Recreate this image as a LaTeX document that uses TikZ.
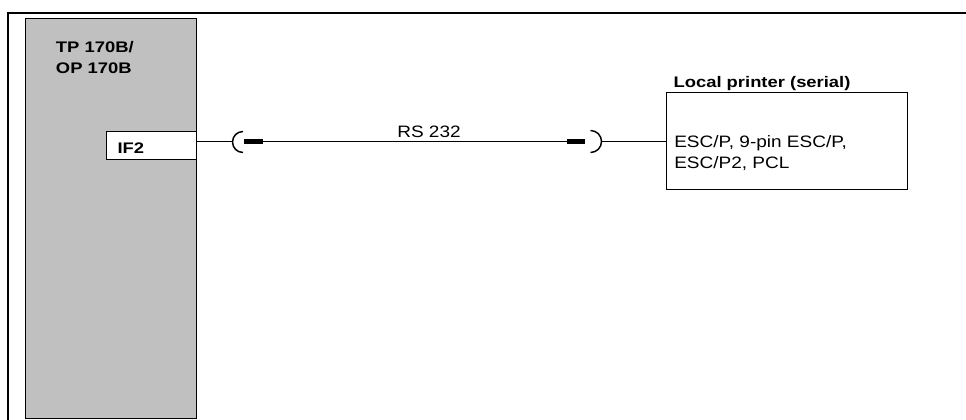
\documentclass[tikz,border=0pt]{standalone}
\usepackage{fontspec}
\setmainfont{Liberation Sans}[FakeStretch=1.15]
\newfontfamily\headfont{Liberation Sans}[FakeStretch=1.2]
\definecolor{panelgray}{RGB}{192,192,192}
\begin{document}
\begin{tikzpicture}[x=0.75pt,y=-0.75pt,
  txt/.style={inner sep=0pt,anchor=base west,align=left,
    font=\fontsize{12.4}{16.1}\selectfont},
  head/.style={inner sep=0pt,anchor=base west,align=left,
    font=\headfont\bfseries\fontsize{11.5}{16.1}\selectfont},
  wire/.style={line width=1.1pt},
  plug/.style={line width=3.2pt}]
  \useasboundingbox (0,0) rectangle (966,420);
  % outer frame
  \draw[line width=1.7pt] (8,425) -- (8,13) -- (970,13);
  % operator panel
  \node[draw,fill=panelgray,line width=0.75pt,anchor=north west,
    minimum width=128.25pt,minimum height=300pt,inner sep=0pt] (panel) at (25,18) {};
  \node[head] (paneltitle) at (55.7,74) {TP 170B/\\OP 170B};
  \node[draw,fill=white,line width=0.75pt,anchor=north west,
    minimum width=67.5pt,minimum height=21pt,inner sep=0pt] (ifbox) at (106,131) {};
  \node[head] (iflabel) at (117.3,154) {IF2};
  % printer
  \node[draw,line width=0.75pt,anchor=north west,
    minimum width=180.75pt,minimum height=72.75pt,inner sep=0pt] (printer) at (666,92) {};
  \node[head] (printertitle) at (673.3,87.3) {Local printer (serial)};
  \node[txt] (protocols) at (674,168.8) {ESC/P, 9-pin ESC/P,\\ESC/P2, PCL};
  % cable
  \coordinate (sockL) at (232.5,141.5);
  \coordinate (plugL) at (244,141.5);
  \coordinate (plugLe) at (263,141.5);
  \coordinate (plugRs) at (567,141.5);
  \coordinate (plugR) at (585,141.5);
  \coordinate (sockR) at (601.5,141.5);
  \draw[wire] (ifbox.east |- sockL) -- (sockL);
  \draw[wire] (243,152.5) arc[start angle=90,end angle=270,radius=10.5];
  \draw[plug] (plugL) -- (plugLe);
  \draw[wire] (plugLe) -- (plugRs);
  \draw[plug] (plugRs) -- (plugR);
  \draw[wire] (590.5,130.5) arc[start angle=-90,end angle=90,radius=11];
  \draw[wire] (sockR) -- (sockR -| printer.west);
  \node[txt] (rslabel) at (397,137.3) {RS 232};
\end{tikzpicture}
\end{document}
